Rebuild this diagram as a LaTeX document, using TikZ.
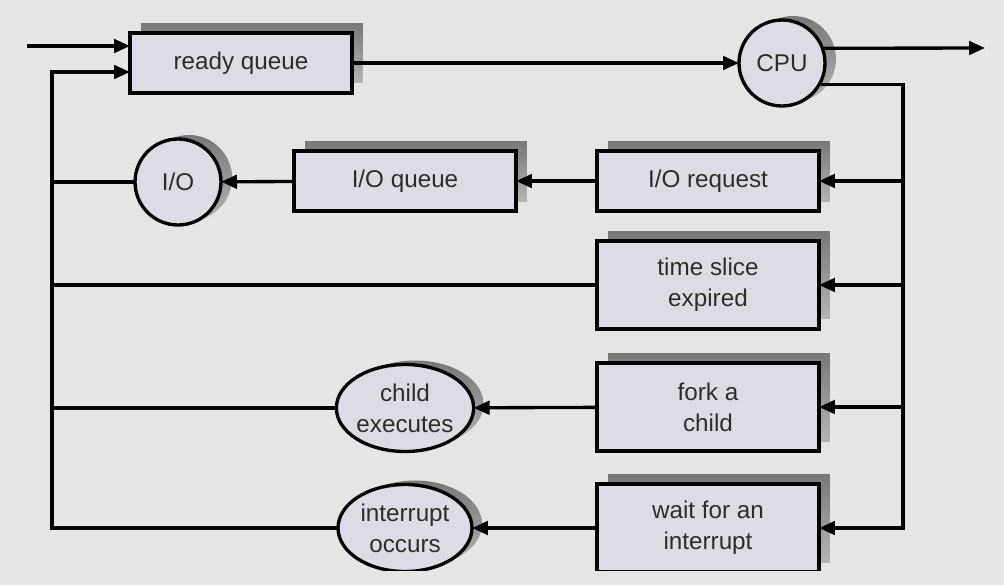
\documentclass[tikz,border=0pt]{standalone}
\usepackage{fontspec}
\setmainfont{Liberation Sans}
\usetikzlibrary{arrows.meta,shapes.geometric,shadows}
\definecolor{bg}{RGB}{229,229,227}
\definecolor{boxfill}{RGB}{221,220,228}
\definecolor{shadetop}{RGB}{120,120,122}
\definecolor{shadebot}{RGB}{180,180,182}
\definecolor{txt}{RGB}{45,45,45}
\begin{document}
\begin{tikzpicture}[x=0.02cm,y=-0.02cm,line width=1.9pt,>={Triangle[length=0.32cm,width=0.27cm]},
  every node/.style={font=\fontsize{13.8}{17.6}\selectfont,text=txt,align=center,inner sep=0pt,outer sep=0pt},
  queuebox/.style={draw,fill=boxfill,minimum width=4.44cm,minimum height=1.2cm,
    general shadow={top color=shadetop,bottom color=shadebot,shadow xshift=0.22cm,shadow yshift=0.2cm}},
  tallbox/.style={queuebox,minimum height=1.76cm},
  device/.style={draw,circle,fill=boxfill,minimum size=1.72cm,
    general shadow={top color=shadetop,bottom color=shadebot,shadow xshift=0.22cm,shadow yshift=0.08cm}},
  event/.style={draw,ellipse,fill=boxfill,minimum width=2.68cm,minimum height=1.74cm,
    general shadow={top color=shadetop,bottom color=shadebot,shadow xshift=0.2cm,shadow yshift=0.08cm}}]
 \fill[bg] (0,0) rectangle (1004,585);
 \clip (0,0) rectangle (1004,570);
 % queues and devices
 \node[queuebox] (rq) at (241,63) {ready queue};
 \node[device] (cpu) at (782,63) {CPU};
 \node[queuebox] (ioreq) at (708,181) {I/O request};
 \node[queuebox] (ioq) at (405,181) {I/O queue};
 \node[device] (io) at (178,182) {I/O};
 \node[tallbox] (slice) at (708,285) {time slice\\expired};
 \node[tallbox] (fork) at (708,407) {fork a\\child};
 \node[event] (child) at (405,408) {child\\executes};
 \node[tallbox] (wait) at (708,528) {wait for an\\interrupt};
 \node[event] (intr) at (405,528) {interrupt\\occurs};
 \coordinate (in) at (27,46);
 \coordinate (back) at (52,72);
 \coordinate (exit) at (985,48);
 \coordinate (rail) at (903,528);
 % flow
 \draw[->] (in) -- (in -| rq.west);
 \draw[->] (rq) -- (cpu);
 \draw[->] (cpu.20) -- (exit);
 \draw[->] (cpu.-30) -| (rail) -- (wait);
 \draw[->] (rail |- ioreq) -- (ioreq);
 \draw[->] (rail |- slice) -- (slice);
 \draw[->] (rail |- fork) -- (fork);
 \draw[->] (ioreq) -- (ioq);
 \draw[->] (ioq) -- (io);
 \draw[->] (fork) -- (child);
 \draw[->] (wait) -- (intr);
 \draw[->] (intr.west) -| (back) -- (back -| rq.west);
 \draw (child.west) -- (child.west -| back);
 \draw (slice.west) -- (slice.west -| back);
 \draw (io.west) -- (io.west -| back);
\end{tikzpicture}
\end{document}
